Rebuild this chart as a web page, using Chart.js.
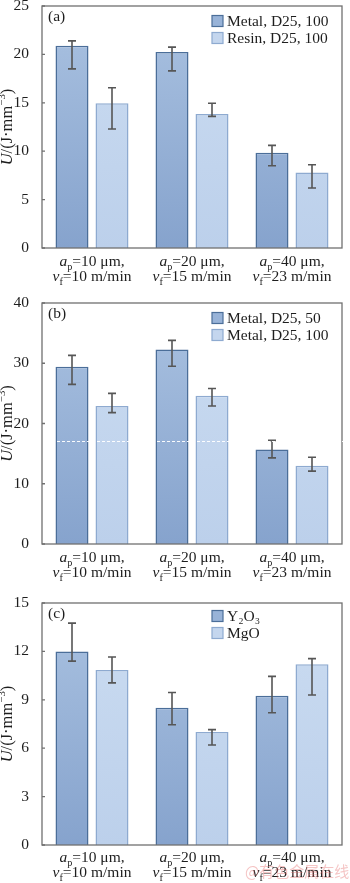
<!DOCTYPE html>
<html>
<head>
<meta charset="utf-8">
<script src="https://cdn.jsdelivr.net/npm/chart.js@4.4.1/dist/chart.umd.min.js"></script>
<style>
  html, body { margin: 0; padding: 0; background: #fff; }
  #wrap { position: relative; width: 350px; height: 883px; overflow: hidden; }
  .panel { position: absolute; left: 0; width: 350px; }
  #dash { position: absolute; left: 57px; top: 441px; width: 288px; border-top: 1.5px dashed rgba(255,255,255,0.95); }
  #mark { position: absolute; left: 245px; top: 860px; font: 15px "Noto Sans CJK SC"; color: rgba(230,110,110,0.4); white-space: nowrap; }
</style>
</head>
<body>
<div id="wrap">
  <div class="panel" style="top:0;height:288px"><canvas id="chartA"></canvas></div>
  <div class="panel" style="top:288px;height:295px"><canvas id="chartB"></canvas></div>
  <div class="panel" style="top:583px;height:300px"><canvas id="chartC"></canvas></div>
  <div id="dash"></div>
  <div id="mark">@有色金属在线</div>
</div>
<script>
// x categories (a_p in µm, v_f in m/min)
const apValues = ['10', '20', '40'];
const vfValues = ['10', '15', '23'];

// (a)
const seriesA = ['Metal, D25, 100', 'Resin, D25, 100'];
const metalA = [20.9, 20.25, 9.85];
const metalLowA = [18.5, 18.3, 8.5];
const metalHighA = [21.4, 20.75, 10.6];
const resinA = [14.95, 13.85, 7.8];
const resinLowA = [12.3, 13.6, 6.2];
const resinHighA = [16.55, 14.95, 8.6];
const yMaxA = 25, yStepA = 5;

// (b)
const seriesB = ['Metal, D25, 50', 'Metal, D25, 100'];
const metal50B = [29.4, 32.3, 15.7];
const metal50LowB = [26.5, 29.5, 14.3];
const metal50HighB = [31.3, 33.8, 17.2];
const metal100B = [22.9, 24.6, 13.0];
const metal100LowB = [21.8, 22.9, 12.1];
const metal100HighB = [25.0, 25.8, 14.4];
const yMaxB = 40, yStepB = 10;

// (c)
const seriesC = ['Y₂O₃', 'MgO'];
const y2o3C = [12.0, 8.5, 9.25];
const y2o3LowC = [11.4, 7.45, 8.2];
const y2o3HighC = [13.75, 9.45, 10.45];
const mgoC = [10.85, 7.0, 11.2];
const mgoLowC = [10.05, 6.2, 9.3];
const mgoHighC = [11.65, 7.15, 11.55];
const yMaxC = 15, yStepC = 3;

const SERIF = '"Liberation Serif", "DejaVu Serif", serif';
const FS = 15.5;

const dark = { top: '#aac2e1', bottom: '#86a3cd', border: '#4b6e99', key: '#98b3d8' };
const light = { top: '#cbdcf1', bottom: '#bcd0eb', border: '#8eaad0', key: '#c4d6ee' };

function gradient(style) {
  return function(ctx) {
    const area = ctx.chart.chartArea;
    if (!area) return style.bottom;
    const g = ctx.chart.ctx.createLinearGradient(0, area.top, 0, area.bottom);
    g.addColorStop(0, style.top);
    g.addColorStop(1, style.bottom);
    return g;
  };
}

// draw text made of pieces: {t, it, sub, sup}
function richWidth(ctx, segs, size) {
  let w = 0;
  segs.forEach(s => {
    const fs = (s.sub || s.sup) ? size * 0.66 : size;
    ctx.font = (s.it ? 'italic ' : '') + fs + 'px ' + SERIF;
    w += ctx.measureText(s.t).width;
  });
  return w;
}
function drawRich(ctx, segs, x, y, size) {
  let cx = x - richWidth(ctx, segs, size) / 2;
  ctx.textBaseline = 'alphabetic';
  ctx.textAlign = 'left';
  segs.forEach(s => {
    const fs = (s.sub || s.sup) ? size * 0.66 : size;
    ctx.font = (s.it ? 'italic ' : '') + fs + 'px ' + SERIF;
    const dy = s.sub ? size * 0.28 : (s.sup ? -size * 0.42 : 0);
    ctx.fillText(s.t, cx, y + dy);
    cx += ctx.measureText(s.t).width;
  });
}

const panelPlugin = {
  id: 'panel',
  afterDatasetsDraw(chart, args, opts) {
    const ctx = chart.ctx;
    const area = chart.chartArea;
    const ys = chart.scales.y;
    const xs = chart.scales.x;
    ctx.save();

    // error bars
    ctx.strokeStyle = '#565656';
    ctx.lineWidth = 1.6;
    chart.data.datasets.forEach((ds, i) => {
      chart.getDatasetMeta(i).data.forEach((bar, j) => {
        const hi = ys.getPixelForValue(ds.errHigh[j]);
        const lo = ys.getPixelForValue(ds.errLow[j]);
        ctx.beginPath();
        ctx.moveTo(bar.x, hi); ctx.lineTo(bar.x, lo);
        ctx.moveTo(bar.x - 4, hi); ctx.lineTo(bar.x + 4, hi);
        ctx.moveTo(bar.x - 4, lo); ctx.lineTo(bar.x + 4, lo);
        ctx.stroke();
      });
    });

    // frame and inward ticks
    ctx.strokeStyle = '#707070';
    ctx.lineWidth = 1.3;
    ctx.strokeRect(area.left, area.top, area.right - area.left, area.bottom - area.top);
    ctx.beginPath();
    ys.ticks.forEach((t, k) => {
      const py = ys.getPixelForTick(k);
      ctx.moveTo(area.left, py); ctx.lineTo(area.left + 3, py);
    });
    ctx.stroke();

    ctx.fillStyle = '#1e1e1e';
    // panel letter
    ctx.font = FS + 'px ' + SERIF;
    ctx.textBaseline = 'middle';
    ctx.textAlign = 'left';
    ctx.fillText(opts.letter, area.left + 6, area.top + 11);

    // legend
    chart.data.datasets.forEach((ds, i) => {
      const cy = area.top + opts.legendTop + i * 17;
      ctx.fillStyle = ds.keyColor;
      ctx.fillRect(212, cy - 5.5, 11, 11);
      ctx.strokeStyle = ds.borderColor;
      ctx.lineWidth = 1.2;
      ctx.strokeRect(212, cy - 5.5, 11, 11);
      ctx.fillStyle = '#1e1e1e';
      ctx.font = FS + 'px ' + SERIF;
      ctx.textBaseline = 'middle';
      ctx.fillText(ds.label, 227, cy + 1);
    });

    // x labels
    chart.data.labels.forEach((lab, j) => {
      const px = xs.getPixelForValue(j);
      drawRich(ctx, [{t: 'a', it: true}, {t: 'p', sub: true}, {t: '=' + apValues[j] + ' μm,'}],
        px, area.bottom + opts.labelGap, FS);
      drawRich(ctx, [{t: 'v', it: true}, {t: 'f', sub: true}, {t: '=' + vfValues[j] + ' m/min'}],
        px, area.bottom + opts.labelGap + 15, FS);
    });

    // y title
    ctx.translate(12, (area.top + area.bottom) / 2);
    ctx.rotate(-Math.PI / 2);
    drawRich(ctx, [{t: 'U', it: true}, {t: '/(J·mm'}, {t: '−3', sup: true}, {t: ')'}], 0, 0, 16.5);
    ctx.restore();
  }
};

function makeChart(id, series, values, lows, highs, yMax, yStep, letter, top, xHeight, legendTop, labelGap) {
  const styles = [dark, light];
  return new Chart(document.getElementById(id), {
    type: 'bar',
    data: {
      labels: apValues.map((a, j) => a + '/' + vfValues[j]),
      datasets: series.map((name, i) => ({
        label: name,
        data: values[i],
        errLow: lows[i],
        errHigh: highs[i],
        backgroundColor: gradient(styles[i]),
        borderColor: styles[i].border,
        keyColor: styles[i].key,
        borderWidth: 1.5,
        categoryPercentage: 0.8,
        barPercentage: 0.825
      }))
    },
    options: {
      responsive: true,
      maintainAspectRatio: false,
      animation: false,
      layout: { padding: { top: top, right: 8, bottom: 0, left: 0 } },
      plugins: {
        legend: { display: false },
        tooltip: { enabled: false },
        panel: { letter: letter, legendTop: legendTop, labelGap: labelGap }
      },
      scales: {
        x: {
          grid: { display: false },
          border: { display: false },
          ticks: { display: false },
          afterFit(scale) { scale.height = xHeight; scale.paddingLeft = 0; scale.paddingRight = 0; }
        },
        y: {
          min: 0,
          max: yMax,
          grid: { display: false },
          border: { display: false },
          ticks: {
            stepSize: yStep,
            padding: 5,
            color: '#1e1e1e',
            font: { family: SERIF, size: FS }
          },
          afterFit(scale) { scale.width = 42; scale.paddingTop = 0; scale.paddingBottom = 0; }
        }
      }
    },
    plugins: [panelPlugin]
  });
}

makeChart('chartA', seriesA, [metalA, resinA], [metalLowA, resinLowA], [metalHighA, resinHighA],
  yMaxA, yStepA, '(a)', 6, 40, 15, 18);
makeChart('chartB', seriesB, [metal50B, metal100B], [metal50LowB, metal100LowB], [metal50HighB, metal100HighB],
  yMaxB, yStepB, '(b)', 15, 39, 15, 18);
makeChart('chartC', seriesC, [y2o3C, mgoC], [y2o3LowC, mgoLowC], [y2o3HighC, mgoHighC],
  yMaxC, yStepC, '(c)', 20, 38, 13, 17);
</script>
</body>
</html>
